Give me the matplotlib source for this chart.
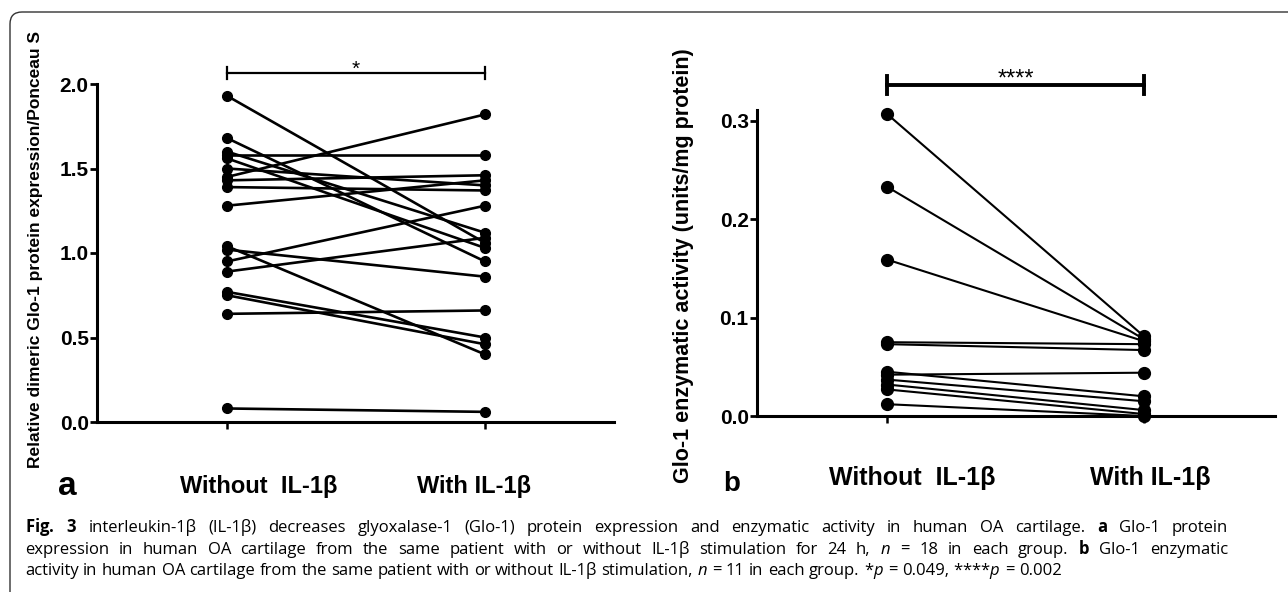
import numpy as np
import matplotlib
matplotlib.use('Agg')
import matplotlib.pyplot as plt
from matplotlib.patches import FancyBboxPatch
from matplotlib.transforms import ScaledTranslation

plt.rcParams['font.family'] = ['Liberation Sans', 'DejaVu Sans']
plt.rcParams['mathtext.fontset'] = 'custom'
plt.rcParams['mathtext.rm'] = 'Open Sans'
plt.rcParams['mathtext.it'] = 'Open Sans:italic'
plt.rcParams['mathtext.bf'] = 'Open Sans:bold'

# ---- datos ----
grupos = ['Without  IL-1β', 'With IL-1β']

# panel a: Glo-1 dimérico / Ponceau S (n = 18)
sin_il1b_a = [1.93, 1.68, 1.60, 1.58, 1.56, 1.50, 1.45, 1.43, 1.39, 1.28,
              1.04, 1.02, 0.95, 0.89, 0.77, 0.75, 0.64, 0.08]
con_il1b_a = [1.06, 0.95, 1.12, 1.58, 1.03, 1.40, 1.82, 1.46, 1.37, 1.43,
              0.40, 0.86, 1.28, 1.09, 0.50, 0.46, 0.66, 0.06]

# panel b: actividad enzimática (n = 11)
sin_il1b_b = [0.307, 0.233, 0.159, 0.075, 0.073, 0.045, 0.042, 0.037, 0.032, 0.027, 0.012]
con_il1b_b = [0.081, 0.078, 0.076, 0.073, 0.067, 0.020, 0.044, 0.015, 0.006, 0.002, 0.000]

yticks_a = [0.0, 0.5, 1.0, 1.5, 2.0]
yticks_b = [0.0, 0.1, 0.2, 0.3]

ylabel_a = 'Relative dimeric Glo-1 protein expression/Ponceau S'
ylabel_b = 'Glo-1 enzymatic activity (units/mg protein)'

caption = [
    r'$\bf{Fig.}$ $\bf{3}$ interleukin-1β (IL-1β) decreases glyoxalase-1 (Glo-1) protein expression and enzymatic activity in human OA cartilage. $\bf{a}$ Glo-1 protein',
    r'expression in human OA cartilage from the same patient with or without IL-1β stimulation for 24 h, $n$ = 18 in each group. $\bf{b}$ Glo-1 enzymatic',
    r'activity in human OA cartilage from the same patient with or without IL-1β stimulation, $n$ = 11 in each group. *$p$ = 0.049, ****$p$ = 0.002',
]

W, H = 1288, 592
fig = plt.figure(figsize=(W / 100, H / 100), dpi=100)

# marco redondeado
marco = FancyBboxPatch((0.10, -0.3), 13.2, 5.92 - 0.12 + 0.3,
                       boxstyle='round,pad=0,rounding_size=0.12',
                       transform=fig.dpi_scale_trans, fill=False,
                       edgecolor='#333333', linewidth=1.0)
fig.patches.append(marco)

ax_a = fig.add_axes([97 / W, 1 - 422 / H, 517 / W, 338 / H])
ax_b = fig.add_axes([757 / W, 1 - 416 / H, 518 / W, 306 / H])

x = [0, 1]


def estilo(ax, yticks, fmt, offsets, fs_x, pad_x):
    for s in ['top', 'right']:
        ax.spines[s].set_visible(False)
    for s in ['left', 'bottom']:
        ax.spines[s].set_linewidth(2.2)
    ax.set_yticks(yticks)
    ax.set_yticklabels([fmt % v for v in yticks], fontsize=15, fontweight='bold')
    ax.tick_params(axis='y', length=5, width=2, pad=1)
    ax.set_xticks(x)
    ax.set_xticklabels(grupos, fontsize=fs_x, fontweight='bold')
    ax.tick_params(axis='x', length=5, width=1.8, pad=pad_x)
    for lab, dx in zip(ax.get_xticklabels(), offsets):
        lab.set_transform(lab.get_transform() + ScaledTranslation(dx / 100, 0, fig.dpi_scale_trans))


# ---- panel a ----
for y0, y1 in zip(sin_il1b_a, con_il1b_a):
    ax_a.plot(x, [y0, y1], color='black', lw=1.9, marker='o', ms=7, clip_on=False, zorder=3)
ax_a.set_xlim(-0.504, 1.5)
ax_a.set_ylim(0, 2.0)
estilo(ax_a, yticks_a, '%.1f', [32, -11], 17, 33)
ax_a.set_ylabel(ylabel_a, fontsize=12.5, fontweight='bold')
ax_a.yaxis.set_label_coords(-0.104, 0.51)

ya = 2.065
ax_a.plot([0, 1], [ya, ya], color='black', lw=1.6, clip_on=False)
for xx in x:
    ax_a.plot([xx, xx], [ya - 0.035, ya + 0.035], color='black', lw=1.6, clip_on=False)
ax_a.text(0.5, ya - 0.037, '*', ha='center', va='bottom', fontsize=15)
ax_a.text(-0.62, -0.38, 'a', fontsize=24, fontweight='bold', ha='center', va='center')

# ---- panel b ----
for y0, y1 in zip(sin_il1b_b, con_il1b_b):
    ax_b.plot(x, [y0, y1], color='black', lw=1.5, marker='o', ms=8.5, clip_on=False, zorder=3)
ax_b.set_xlim(-0.506, 1.51)
ax_b.set_ylim(0, 0.311)
estilo(ax_b, yticks_b, '%.1f', [25, 6], 18, 31)
ax_b.set_ylabel(ylabel_b, fontsize=15.5, fontweight='bold')
ax_b.yaxis.set_label_coords(-0.122, 0.49)

yb = 0.3366
ax_b.plot([0, 1], [yb, yb], color='black', lw=2.8, clip_on=False)
for xx in x:
    ax_b.plot([xx, xx], [yb - 0.009, yb + 0.009], color='black', lw=2.8, clip_on=False)
ax_b.text(0.5, yb - 0.0056, '****', ha='center', va='bottom', fontsize=17)
ax_b.text(-0.605, -0.069, 'b', fontsize=20, fontweight='bold', ha='center', va='center')

# ---- pie de figura (justificado salvo la última línea) ----
fs_cap = 12
r = fig.canvas.get_renderer()
t1 = fig.text(0, 0, 'n n', fontsize=fs_cap, family='Open Sans')
t2 = fig.text(0, 0, 'nn', fontsize=fs_cap, family='Open Sans')
espacio = t1.get_window_extent(r).width - t2.get_window_extent(r).width
t1.remove()
t2.remove()

x0, x1 = 25, 1228
for i, linea in enumerate(caption):
    ybase = 1 - (532 + 21.5 * i) / H
    palabras = linea.split(' ')
    objs = [fig.text(0, ybase, p, fontsize=fs_cap, family='Open Sans', va='baseline', ha='left')
            for p in palabras]
    anchos = [o.get_window_extent(r).width for o in objs]
    if i < len(caption) - 1:
        gap = (x1 - x0 - sum(anchos)) / (len(palabras) - 1)
    else:
        gap = espacio
    xp = x0
    for o, w in zip(objs, anchos):
        o.set_x(xp / W)
        xp += w + gap

fig.savefig('out.png', dpi=100)
